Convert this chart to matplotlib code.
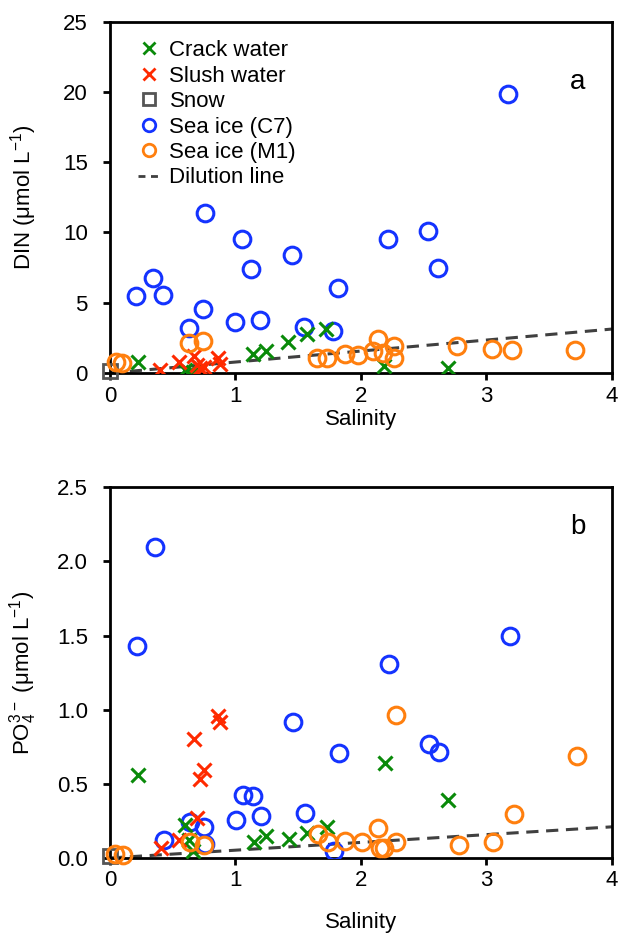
import matplotlib
matplotlib.use("Agg")
import matplotlib.pyplot as plt
from matplotlib.lines import Line2D

plt.rcParams['font.family'] = ['Liberation Sans', 'DejaVu Sans']
plt.rcParams['mathtext.default'] = 'regular'

# ---- Panel a: DIN ----
crack_sal_a = [0.22, 0.60, 0.63, 0.66, 1.14, 1.24, 1.42, 1.57, 1.72, 2.18, 2.69]
crack_din = [0.80, 0.20, 0.10, 0.05, 1.33, 1.59, 2.18, 2.75, 3.11, 0.50, 0.38]
slush_sal_a = [0.40, 0.55, 0.67, 0.69, 0.72, 0.75, 0.86, 0.88]
slush_din = [0.21, 0.75, 1.20, 0.60, 0.35, 0.45, 1.05, 0.65]
snow_sal = [0.0]
snow_din = [0.15]
snow_po4 = [0.01]
c7_sal_a = [0.21, 0.345, 0.425, 0.632, 0.744, 0.757, 0.999, 1.054, 1.126, 1.195,
            1.447, 1.549, 1.774, 1.814, 2.213, 2.536, 2.611, 3.169]
c7_din = [5.50, 6.79, 5.57, 3.18, 4.58, 11.37, 3.61, 9.54, 7.38, 3.77,
          8.42, 3.27, 2.99, 6.05, 9.54, 10.13, 7.45, 19.84]
m1_sal_a = [0.048, 0.098, 0.632, 0.744, 1.647, 1.726, 1.873, 1.979, 2.098, 2.138,
            2.178, 2.263, 2.263, 2.768, 3.044, 3.203, 3.708]
m1_din = [0.80, 0.73, 2.11, 2.25, 1.04, 1.09, 1.33, 1.28, 1.57, 2.40,
          1.45, 1.92, 1.09, 1.94, 1.73, 1.64, 1.61]

# ---- Panel b: PO4 ----
crack_sal_b = [0.22, 0.60, 0.63, 0.66, 1.15, 1.24, 1.43, 1.57, 1.73, 2.19, 2.69]
crack_po4 = [0.56, 0.22, 0.12, 0.05, 0.11, 0.15, 0.13, 0.17, 0.21, 0.64, 0.39]
slush_sal_b = [0.41, 0.55, 0.67, 0.69, 0.72, 0.75, 0.86, 0.88]
slush_po4 = [0.065, 0.12, 0.80, 0.27, 0.53, 0.59, 0.96, 0.92]
c7_sal_b = [0.218, 0.359, 0.433, 0.637, 0.749, 0.757, 1.004, 1.062, 1.137, 1.203,
            1.456, 1.554, 1.787, 1.822, 2.223, 2.545, 2.622, 3.187]
c7_po4 = [1.43, 2.10, 0.12, 0.245, 0.206, 0.094, 0.254, 0.424, 0.418, 0.285,
          0.916, 0.305, 0.047, 0.705, 1.305, 0.766, 0.712, 1.50]
m1_sal_b = [0.04, 0.10, 0.637, 0.752, 1.66, 1.735, 1.873, 2.005, 2.133, 2.151,
            2.186, 2.279, 2.276, 2.783, 3.049, 3.217, 3.721]
m1_po4 = [0.025, 0.02, 0.11, 0.088, 0.16, 0.11, 0.117, 0.11, 0.204, 0.065,
          0.065, 0.106, 0.964, 0.085, 0.108, 0.294, 0.69]

dil_sal = [0, 4]
dil_din = [0, 3.13]
dil_po4 = [0, 0.21]

legend_labels = ['Crack water', 'Slush water', 'Snow', 'Sea ice (C7)', 'Sea ice (M1)', 'Dilution line']

GREEN = '#0a8a0a'
RED = '#ff2a00'
GRAY = '#555555'
BLUE = '#1433ff'
ORANGE = '#ff7f0e'
FS = 16

fig = plt.figure(figsize=(6.2, 9.34), dpi=100)
ax_a = fig.add_axes([0.1774, 0.6006, 0.8096, 0.3762])
ax_b = fig.add_axes([0.1774, 0.0814, 0.8096, 0.3969])

def draw(ax, cs, cy, ss, sy, sny, c7s, c7y, m1s, m1y, dily):
    ax.plot(dil_sal, dily, ls=(0, (4, 2.5)), color='#404040', lw=2.2, zorder=2)
    ax.plot(snow_sal, sny, ls='none', marker='s', ms=10, mfc='none', mec=GRAY, mew=2,
            clip_on=False, zorder=3)
    ax.plot(c7s, c7y, ls='none', marker='o', ms=12, mfc='none', mec=BLUE, mew=2.2, zorder=3)
    ax.plot(cs, cy, ls='none', marker='x', ms=10, mec=GREEN, mew=2.2, zorder=4)
    ax.plot(ss, sy, ls='none', marker='x', ms=10, mec=RED, mew=2.2, zorder=4)
    ax.plot(m1s, m1y, ls='none', marker='o', ms=12, mfc='none', mec=ORANGE, mew=2.2,
            zorder=5, clip_on=False)
    ax.set_xlim(0, 4)
    ax.set_xticks([0, 1, 2, 3, 4])
    for s in ax.spines.values():
        s.set_linewidth(2)
    ax.tick_params(direction='out', length=5, width=2, labelsize=FS, top=False, right=False)
    ax.tick_params(axis='y', pad=11)
    ax.tick_params(axis='x', pad=4)

draw(ax_a, crack_sal_a, crack_din, slush_sal_a, slush_din, snow_din,
     c7_sal_a, c7_din, m1_sal_a, m1_din, dil_din)
ax_a.set_ylim(0, 25)
ax_a.set_yticks([0, 5, 10, 15, 20, 25])
ax_a.set_ylabel('DIN (μmol L$^{-1}$)', fontsize=FS)
ax_a.set_xlabel('Salinity', fontsize=FS, labelpad=2)
ax_a.yaxis.set_label_coords(-0.142, 0.5)
ax_a.text(0.932, 0.827, 'a', transform=ax_a.transAxes, fontsize=20, ha='center', va='center')

draw(ax_b, crack_sal_b, crack_po4, slush_sal_b, slush_po4, snow_po4,
     c7_sal_b, c7_po4, m1_sal_b, m1_po4, dil_po4)
ax_b.set_ylim(0, 2.5)
ax_b.set_yticks([0, 0.5, 1.0, 1.5, 2.0, 2.5])
ax_b.set_yticklabels(['0.0', '0.5', '1.0', '1.5', '2.0', '2.5'])
ax_b.set_ylabel('PO$_4^{3-}$ (μmol L$^{-1}$)', fontsize=FS)
ax_b.set_xlabel('Salinity', fontsize=FS, labelpad=15)
ax_b.yaxis.set_label_coords(-0.142, 0.5)
ax_b.text(0.932, 0.892, 'b', transform=ax_b.transAxes, fontsize=20, ha='center', va='center')

handles = [
    Line2D([], [], ls='none', marker='x', ms=9, mec=GREEN, mew=2),
    Line2D([], [], ls='none', marker='x', ms=9, mec=RED, mew=2),
    Line2D([], [], ls='none', marker='s', ms=9, mfc='none', mec=GRAY, mew=2),
    Line2D([], [], ls='none', marker='o', ms=9, mfc='none', mec=BLUE, mew=2),
    Line2D([], [], ls='none', marker='o', ms=9, mfc='none', mec=ORANGE, mew=2),
    Line2D([], [], ls=(0, (2.5, 2)), color='#404040', lw=2),
]
ax_a.legend(handles, legend_labels, loc='upper left', bbox_to_anchor=(0.03, 0.985), frameon=False,
            fontsize=FS, handlelength=1.0, handletextpad=0.4, labelspacing=0.2,
            borderaxespad=0.2)

fig.savefig('out.png', dpi=100)
